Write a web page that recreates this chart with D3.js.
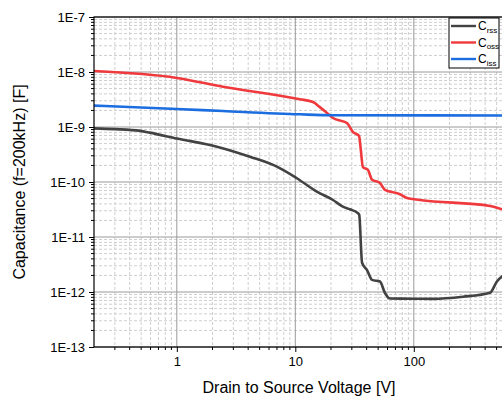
<!DOCTYPE html>
<html>
<head>
<meta charset="utf-8">
<script src="https://cdn.jsdelivr.net/npm/d3@7"></script>
<style>
  html, body { margin: 0; padding: 0; background: #fff; }
  svg { display: block; font-family: "Liberation Sans", Arial, sans-serif; }
</style>
</head>
<body>
<div id="chart"></div>
<script>
// capacitance curves (V, F)
const crssV = [0.2, 0.3, 0.49, 0.59, 1.0, 2.18, 4.14, 7.0, 10.3, 15.2, 20.8, 25.2, 28.9, 33.8, 34.6, 36.6, 40.3, 44.4, 51.8, 57.1, 63, 98, 145, 260, 440, 503, 555, 620];
const crssC = [9.44e-10, 9.15e-10, 8.5e-10, 7.9e-10, 6.18e-10, 4.39e-10, 2.88e-10, 1.9e-10, 1.17e-10, 6.67e-11, 4.71e-11, 3.56e-11, 3.19e-11, 2.7e-11, 2.55e-11, 3.4e-12, 2.5e-12, 1.66e-12, 1.55e-12, 9.6e-13, 7.6e-13, 7.55e-13, 7.5e-13, 8.2e-13, 9.7e-13, 1.55e-12, 1.9e-12, 2.1e-12];

const cossV = [0.2, 1.0, 2.45, 10.9, 14.1, 16.1, 18.5, 20.8, 27.3, 30.7, 34.5, 35.4, 37.2, 41.0, 44.4, 51.8, 57.1, 76.4, 87.5, 112.8, 440, 555, 620];
const cossC = [1.04e-8, 7.8e-9, 5.4e-9, 3.2e-9, 2.85e-9, 2.3e-9, 1.8e-9, 1.46e-9, 1.18e-9, 8.1e-10, 6.9e-10, 4.6e-10, 1.87e-10, 1.66e-10, 1.1e-10, 9.6e-11, 7.2e-11, 6.0e-11, 5.1e-11, 4.7e-11, 3.67e-11, 3.2e-11, 3.1e-11];

const cissV = [0.2, 1.0, 2.45, 10.9, 20.8, 555, 620];
const cissC = [2.45e-9, 2.13e-9, 1.95e-9, 1.7e-9, 1.64e-9, 1.62e-9, 1.62e-9];

const yTicks = [1e-13, 1e-12, 1e-11, 1e-10, 1e-9, 1e-8, 1e-7];
const xTicks = [1, 10, 100];

const series = [
  { name: 'rss', v: crssV, c: crssC, color: '#424242' },
  { name: 'oss', v: cossV, c: cossC, color: '#f0393c' },
  { name: 'iss', v: cissV, c: cissC, color: '#1c6ee0' }
];

function drawCapChart() {
  const W = 502, H = 401;
  const plot = { left: 94, top: 17, right: 506, bottom: 347 };

  const svg = d3.select('#chart').append('svg')
    .attr('width', W)
    .attr('height', H);

  // scales
  const x = d3.scaleLog().domain([0.2, 600]).range([plot.left, plot.right]);
  const y = d3.scaleLog().domain([1e-13, 1e-7]).range([plot.bottom, plot.top]);

  // minor values for grid / ticks
  const minorX = [];
  [0.1, 1, 10, 100].forEach(d => { for (let k = 2; k <= 9; k++) minorX.push(d * k); });
  const minorXIn = minorX.filter(v => v > 0.2 && v < 600);
  const minorY = [];
  yTicks.slice(0, -1).forEach(d => { for (let k = 2; k <= 9; k++) minorY.push(d * k); });

  svg.append('defs').append('clipPath').attr('id', 'clip')
    .append('rect')
      .attr('x', plot.left).attr('y', plot.top)
      .attr('width', plot.right - plot.left).attr('height', plot.bottom - plot.top);

  const grid = svg.append('g');

  // minor grid (dashed)
  grid.selectAll('.mx').data(minorXIn).enter().append('line')
    .attr('x1', d => x(d)).attr('x2', d => x(d))
    .attr('y1', plot.top).attr('y2', plot.bottom)
    .attr('stroke', '#cfcfcf').attr('stroke-dasharray', '3,2');
  grid.selectAll('.my').data(minorY).enter().append('line')
    .attr('y1', d => y(d)).attr('y2', d => y(d))
    .attr('x1', plot.left).attr('x2', plot.right)
    .attr('stroke', '#cfcfcf').attr('stroke-dasharray', '3,2');

  // major grid (solid)
  grid.selectAll('.gx').data(xTicks).enter().append('line')
    .attr('x1', d => x(d)).attr('x2', d => x(d))
    .attr('y1', plot.top).attr('y2', plot.bottom)
    .attr('stroke', '#9a9a9a');
  grid.selectAll('.gy').data(yTicks).enter().append('line')
    .attr('y1', d => y(d)).attr('y2', d => y(d))
    .attr('x1', plot.left).attr('x2', plot.right)
    .attr('stroke', '#9a9a9a');

  // curves
  const line = d3.line()
    .x(d => x(d[0]))
    .y(d => y(d[1]))
    .curve(d3.curveMonotoneX);

  svg.append('g').attr('clip-path', 'url(#clip)')
    .selectAll('path')
    .data(series)
    .enter().append('path')
      .attr('fill', 'none')
      .attr('stroke', d => d.color)
      .attr('stroke-width', 2.6)
      .attr('stroke-linejoin', 'round')
      .attr('d', d => line(d.v.map((v, i) => [v, d.c[i]])));

  // frame
  svg.append('rect')
    .attr('x', plot.left).attr('y', plot.top)
    .attr('width', plot.right - plot.left).attr('height', plot.bottom - plot.top)
    .attr('fill', 'none').attr('stroke', '#000').attr('stroke-width', 1.2);

  // axes
  const yAxis = svg.append('g')
    .attr('transform', `translate(${plot.left},0)`)
    .call(d3.axisLeft(y).tickValues(yTicks).tickSize(5).tickPadding(4)
      .tickFormat(d => '1E' + Math.round(Math.log10(d))));
  yAxis.append('g').selectAll('line').data(minorY).enter().append('line')
    .attr('x1', -3).attr('x2', 0)
    .attr('y1', d => y(d)).attr('y2', d => y(d))
    .attr('stroke', '#000');

  const xAxis = svg.append('g')
    .attr('transform', `translate(0,${plot.bottom})`)
    .call(d3.axisBottom(x).tickValues(xTicks).tickSize(5).tickPadding(5)
      .tickFormat(d3.format('d')));
  xAxis.append('g').selectAll('line').data(minorXIn).enter().append('line')
    .attr('y1', 0).attr('y2', 3)
    .attr('x1', d => x(d)).attr('x2', d => x(d))
    .attr('stroke', '#000');

  [yAxis, xAxis].forEach(a => {
    a.select('.domain').remove();
    a.selectAll('text').attr('font-size', '13px').attr('fill', '#000')
      .attr('font-family', '"Liberation Sans", Arial, sans-serif');
    a.selectAll('line').attr('stroke', '#000');
  });

  // axis titles
  svg.append('text')
    .attr('x', 299)
    .attr('y', 393)
    .attr('text-anchor', 'middle')
    .attr('font-size', '16px')
    .text('Drain to Source Voltage [V]');

  svg.append('text')
    .attr('transform', `translate(25,${(plot.top + plot.bottom) / 2}) rotate(-90)`)
    .attr('text-anchor', 'middle')
    .attr('font-size', '16px')
    .text('Capacitance (f=200kHz) [F]');

  // legend
  const legend = svg.append('g').attr('transform', 'translate(449,18)');
  legend.append('rect')
    .attr('width', 50).attr('height', 50)
    .attr('fill', '#fff').attr('stroke', '#000');
  const item = legend.selectAll('.item').data(series).enter().append('g')
    .attr('transform', (d, i) => `translate(0,${8 + i * 16.5})`);
  item.append('line')
    .attr('x1', 2).attr('x2', 27)
    .attr('stroke', d => d.color).attr('stroke-width', 2.4);
  const lt = item.append('text')
    .attr('x', 29).attr('y', 4)
    .attr('font-size', '12px');
  lt.append('tspan').text('C');
  lt.append('tspan').attr('font-size', '8px').attr('dy', 2.5).text(d => d.name);
}

drawCapChart();
</script>
</body>
</html>
